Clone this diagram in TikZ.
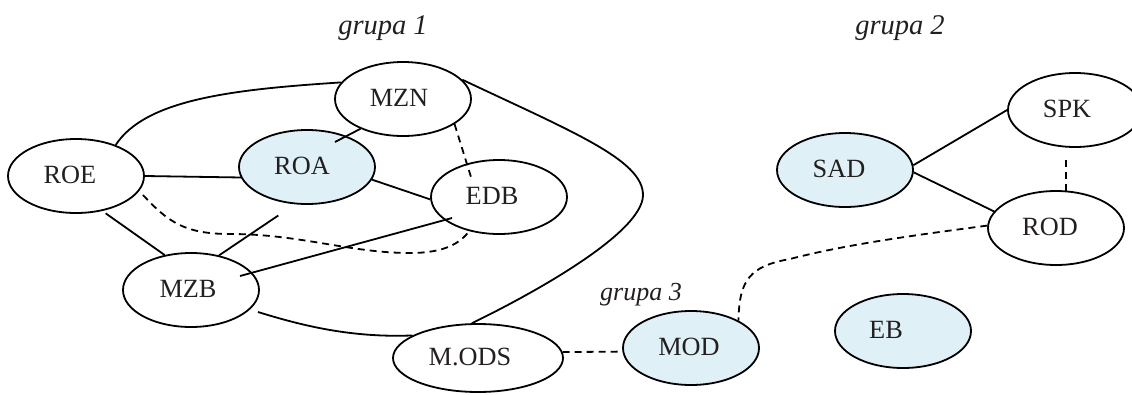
\documentclass[tikz,border=0pt]{standalone}
\usepackage{fontspec}
\setmainfont{Liberation Serif}
\usetikzlibrary{shapes.geometric,calc}
\definecolor{lblue}{RGB}{223,241,247}
\definecolor{ink}{RGB}{35,31,32}
\newcommand\nlab[2]{\raisebox{2pt}{#1}\hspace*{#2}\mbox{}}
\begin{document}
\begin{tikzpicture}[x=1pt,y=-1pt,
  ent/.style={ellipse,draw=black,line width=1.8pt,minimum width=136pt,minimum height=74pt,
    inner sep=0pt,text=ink,font=\fontsize{26.3}{30}\selectfont},
  filled/.style={ent,fill=lblue},
  link/.style={line width=1.8pt},
  dlink/.style={line width=1.8pt,dash pattern=on 7pt off 5pt},
  grp/.style={text=ink,inner sep=0pt,anchor=base,font=\fontsize{28.5}{32}\selectfont\itshape}]
\useasboundingbox (0,0) rectangle (1132,394);

% group labels
\node[grp] (g1) at (383,34) {grupa 1};
\node[grp] (g2) at (900,34) {grupa 2};
\node[grp,font=\fontsize{26}{30}\selectfont\itshape] (g3) at (641,300) {grupa 3};

% entities
\node[ent]    (ROE)  at (76,176)   {\nlab{ROE}{12pt}};
\node[filled] (ROA)  at (307,167)  {\nlab{ROA}{10pt}};
\node[ent]    (MZN)  at (403,99)   {\nlab{MZN}{8pt}};
\node[ent]    (EDB)  at (499,197)  {\nlab{EDB}{14pt}};
\node[ent]    (MZB)  at (191,290)  {\nlab{MZB}{6pt}};
\node[ent,minimum width=170pt,minimum height=68pt] (MODS) at (478,358) {\nlab{M.ODS}{16pt}};
\node[filled] (MOD)  at (691,348)  {\nlab{MOD}{4pt}};
\node[filled] (SAD)  at (845,170)  {\nlab{SAD}{12pt}};
\node[ent,minimum width=134pt] (SPK) at (1075,110) {\nlab{SPK}{16pt}};
\node[ent]    (ROD)  at (1056,228) {\nlab{ROD}{12pt}};
\node[filled] (EB)   at (903,331)  {\nlab{EB}{34pt}};

% group 1 connectors
\draw[link] (ROE.38) .. controls +(30,-46) and +(-107,7) .. (MZN.165);
\draw[link] (MZN.215) -- ($(ROA)+(28,-25)$);
\draw[link] (ROE.east) -- (ROA.189);
\draw[link] (ROA.-11) -- (EDB.182);
\draw[dlink] (MZN.-26) -- ($(EDB)+(-28,-20)$);
\draw[link] (MZN.18) .. controls (573,132) and (643,160) .. (643,195)
  .. controls (643,235) and (520,300) .. (MODS.100);
\draw[link,shorten <=4pt] (ROE.-53) -- (MZB.127);
\draw[link,shorten <=20pt] (ROA.-108) -- (MZB.51);
\draw[link] ($(EDB)+(-47,21)$) -- ($(MZB)+(49,-14)$);
\draw[dlink] ($(ROE)+(67,19)$) .. controls (168,222) and (185,234) .. (230,234)
  .. controls (300,234) and (350,253) .. (410,253)
  .. controls (445,253) and (460,243) .. (EDB.-131);
\draw[link] ($(MZB)+(67,22)$) .. controls (300,325) and (350,338) .. (MODS.161);

% group 3 connectors
\draw[dlink] (MODS.4) -- (MOD.183);
\draw[dlink] (ROD.178) .. controls (900,237) and (840,246) .. (790,259)
  .. controls (750,266) and (739,280) .. (MOD.30);

% group 2 connectors
\draw[link] (SAD.4) -- (SPK.west);
\draw[link] (SAD.-2) -- (ROD.165);
\draw[dlink,shorten >=9pt] (ROD.75) -- (ROD.75 |- SPK.south);
\end{tikzpicture}
\end{document}
